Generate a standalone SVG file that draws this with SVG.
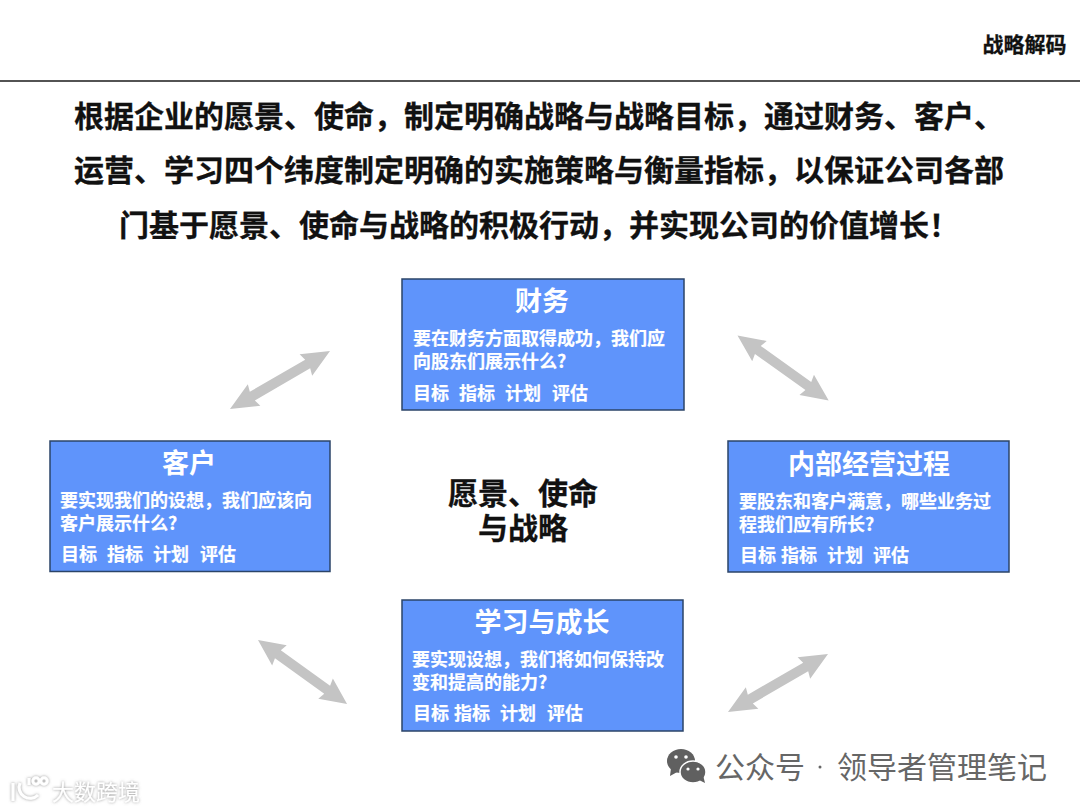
<svg xmlns="http://www.w3.org/2000/svg" width="1080" height="810" viewBox="0 0 1080 810">
<style>
text{font-family:"Noto Sans CJK SC","Noto Sans",sans-serif;}
.h{font-weight:700;fill:#111;stroke:#111;stroke-width:.3;}
.box{fill:#5f94fb;stroke:#2b4468;stroke-width:1.5;}
.t{font-weight:700;fill:#fff;font-size:27px;text-anchor:middle;}
.d{font-weight:700;fill:#fff;font-size:18px;stroke:#fff;stroke-width:.2;}
.a{fill:#c4c4c4;}
.w{fill:#666;font-size:30px;}
</style>
<defs>
<polygon id="dbl" points="0,0 27,-12.5 25,-5 87,-5 85,-12.5 112,0 85,12.5 87,5 25,5 27,12.5"/>
<filter id="sh" filterUnits="userSpaceOnUse" x="0" y="760" width="160" height="50"><feDropShadow dx="0" dy="0" stdDeviation="1.6" flood-color="#777" flood-opacity="0.8"/></filter>
</defs>
<rect width="1080" height="810" fill="#fff"/>
<g id="header">
<line x1="0" y1="81" x2="1080" y2="81" stroke="#1a1a1a" stroke-width="1.5"/>
<text class="h" x="982.500" y="52" font-size="21">战略解码</text>
</g>
<g id="intro">
<text class="h" x="74" y="127" font-size="30">根据企业的愿景、使命&#65292;制定明确战略与战略目标&#65292;通过财务、客户、</text>
<text class="h" x="74" y="181" font-size="30">运营、学习四个纬度制定明确的实施策略与衡量指标&#65292;以保证公司各部</text>
<text class="h" x="119" y="236" font-size="30">门基于愿景、使命与战略的积极行动&#65292;并实现公司的价值增长&#65281;</text>
</g>
<g id="connectors">
<use href="#dbl" class="a" transform="translate(737.500 335.500) rotate(35.500)"/>
<use href="#dbl" class="a" transform="translate(230 409) rotate(-30.100) scale(1.032 1)"/>
<use href="#dbl" class="a" transform="translate(258 640) rotate(35.700) scale(.979 1)"/>
<use href="#dbl" class="a" transform="translate(728 712) rotate(-30.100) scale(1.032 1)"/>
</g>
<g id="finance">
<rect class="box" x="402" y="279" width="282" height="131"/>
<text class="t" x="542" y="311">财务</text>
<text class="d" x="413" y="345">要在财务方面取得成功&#65292;我们应<tspan x="413" dy="23">向股东们展示什么?</tspan></text>
<text class="d" x="413" y="400">目标</text><text class="d" x="459" y="400">指标</text><text class="d" x="505" y="400">计划</text><text class="d" x="552" y="400">评估</text>
</g>
<g id="customer">
<rect class="box" x="50" y="441" width="280" height="130.500"/>
<text class="t" x="189" y="473">客户</text>
<text class="d" x="60" y="507">要实现我们的设想&#65292;我们应该向<tspan x="60" dy="23">客户展示什么?</tspan></text>
<text class="d" x="61" y="561">目标</text><text class="d" x="107" y="561">指标</text><text class="d" x="153" y="561">计划</text><text class="d" x="200" y="561">评估</text>
</g>
<g id="process">
<rect class="box" x="728" y="441" width="281" height="131"/>
<text class="t" x="869" y="474">内部经营过程</text>
<text class="d" x="739" y="508">要股东和客户满意&#65292;哪些业务过<tspan x="739" dy="23">程我们应有所长?</tspan></text>
<text class="d" x="740" y="562">目标</text><text class="d" x="781" y="562">指标</text><text class="d" x="827" y="562">计划</text><text class="d" x="873" y="562">评估</text>
</g>
<g id="learning">
<rect class="box" x="402" y="600" width="281" height="131"/>
<text class="t" x="542" y="632">学习与成长</text>
<text class="d" x="412" y="666">要实现设想&#65292;我们将如何保持改<tspan x="412" dy="23">变和提高的能力?</tspan></text>
<text class="d" x="413" y="720">目标</text><text class="d" x="454" y="720">指标</text><text class="d" x="500" y="720">计划</text><text class="d" x="547" y="720">评估</text>
</g>
<g id="center">
<text class="h" x="523" y="504" font-size="30" text-anchor="middle">愿景、使命<tspan x="523" dy="35">与战略</tspan></text>
</g>
<g id="watermark">
<ellipse cx="681" cy="761" rx="14" ry="12" fill="#606060"/>
<polygon points="671,768 670,776 679,771" fill="#606060"/>
<ellipse cx="693" cy="772" rx="13" ry="11" fill="#606060" stroke="#fff" stroke-width="1.500"/>
<polygon points="699,780 705,783 703,775" fill="#606060"/>
<circle cx="676" cy="757" r="1.800" fill="#fff"/><circle cx="686" cy="757" r="1.800" fill="#fff"/>
<circle cx="688" cy="769" r="1.600" fill="#fff"/><circle cx="698" cy="769" r="1.600" fill="#fff"/>
<text class="w" x="715" y="778">公众号</text>
<circle cx="820" cy="767" r="1.500" fill="#666"/>
<text class="w" x="837" y="778">领导者管理笔记</text>
<g filter="url(#sh)" fill="none" stroke="#fff" stroke-width="3">
<path d="M13,783 V801 M20,783 A11,11 0 0 0 38,795 M29,778 V785"/>
<circle cx="36" cy="781" r="3.200"/><circle cx="44" cy="781" r="3.200"/>
</g>
<text x="52" y="800" font-size="22" fill="#fff" filter="url(#sh)">大数跨境</text>
</g>
</svg>
